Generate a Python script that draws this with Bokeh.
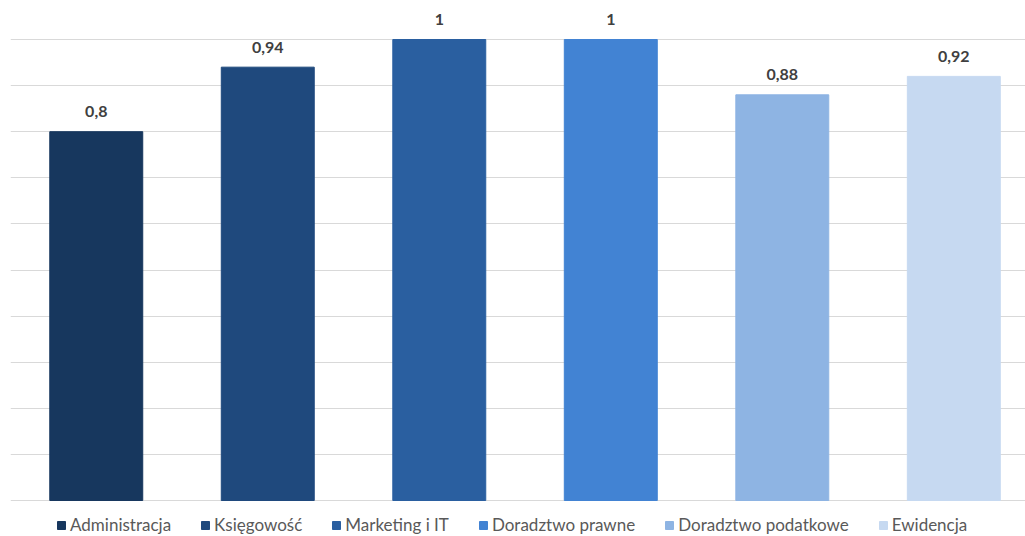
from bokeh.plotting import figure
from bokeh.models import ColumnDataSource, Range1d, SingleIntervalTicker, Legend, LegendItem
from bokeh.embed import file_html
from bokeh.resources import INLINE
from bokeh.core.properties import value

categories = ["Administracja", "Księgowość", "Marketing i IT", "Doradztwo prawne", "Doradztwo podatkowe", "Ewidencja"]
values = [0.8, 0.94, 1.0, 1.0, 0.88, 0.92]
colors = ["#17375E", "#1F497D", "#2A5FA0", "#4283D3", "#8EB4E3", "#C6D9F1"]

xs = list(range(len(categories)))
labels = [f"{v:g}".replace(".", ",") for v in values]

src = ColumnDataSource(dict(x=xs, top=values, label=labels))

p = figure(width=1025, height=536, output_backend="svg", toolbar_location=None,
           x_range=Range1d(-0.5, 5.418), y_range=Range1d(-36 / 461, 1 + 39 / 461),
           min_border_left=10, min_border_right=0, min_border_top=0, min_border_bottom=0)
p.outline_line_color = None
p.xaxis.visible = False
p.yaxis.visible = False
p.xgrid.visible = False
p.ygrid.ticker = SingleIntervalTicker(interval=0.1)
p.ygrid.grid_line_color = "#D9D9D9"
p.ygrid.grid_line_width = 1.2

renderers = []
for i in range(len(categories)):
    r = p.vbar(x=[xs[i]], top=[values[i]], bottom=0, width=0.542, color=colors[i])
    renderers.append(r)

p.text(x="x", y="top", text="label", source=src, text_align="center", text_baseline="alphabetic",
       y_offset=-20, text_font=value("Lato"), text_font_style="bold", text_font_size="16px",
       text_color="#404040")

legend = Legend(items=[LegendItem(label=categories[i], renderers=[renderers[i]]) for i in range(len(categories))],
                orientation="horizontal", location=(46, 1),
                label_text_font="Lato", label_text_font_size="17px", label_text_color="#595959",
                glyph_width=10, glyph_height=10, label_standoff=4, spacing=29,
                border_line_color=None, background_fill_alpha=0, padding=0, margin=0)
p.add_layout(legend)

open("out.html", "w").write(file_html(p, INLINE))
